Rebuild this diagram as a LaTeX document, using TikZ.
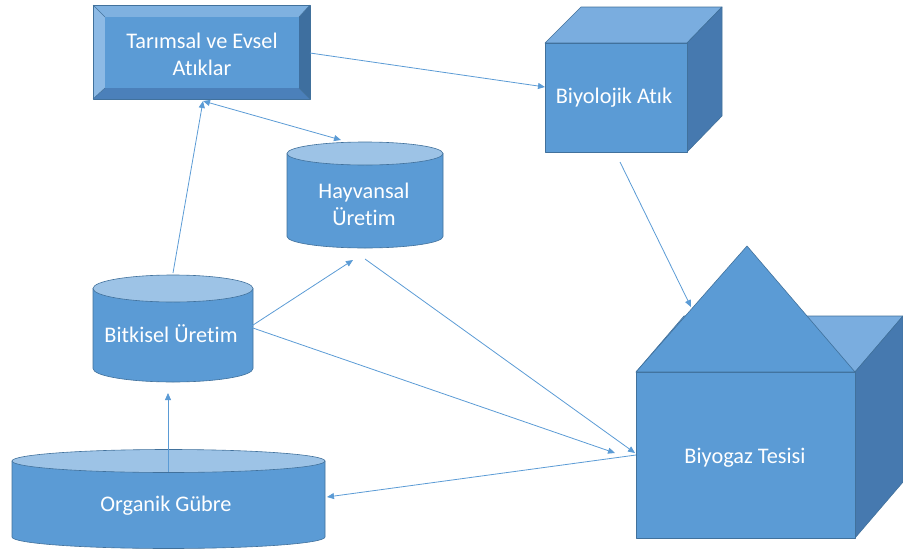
\documentclass[tikz,border=0pt]{standalone}
\usepackage{fontspec}
\setmainfont{Carlito}[Ligatures=NoCommon]
\usetikzlibrary{arrows.meta}
\definecolor{mainblue}{HTML}{5B9BD5}
\definecolor{lighttop}{HTML}{9DC3E6}
\definecolor{facetop}{HTML}{7AADDF}
\definecolor{faceright}{HTML}{4679AF}
\definecolor{edgeblue}{HTML}{41719C}
\definecolor{bevtop}{HTML}{7FB1E0}
\definecolor{bevleft}{HTML}{8DBAE5}
\definecolor{bevbottom}{HTML}{4B80BA}
\definecolor{bevright}{HTML}{3E6F9F}
\begin{document}
\begin{tikzpicture}[x=1pt,y=-1pt,
  face/.style={draw=edgeblue, line width=0.6pt, line join=round},
  lbl/.style={text=white, font=\fontsize{22.3}{27}\selectfont, align=center, inner sep=0pt},
  conn/.style={draw=mainblue, line width=0.8pt, -{Triangle[length=7pt,width=6pt]}},
  dconn/.style={draw=mainblue, line width=0.8pt, {Triangle[length=7pt,width=6pt]}-{Triangle[length=7pt,width=6pt]}},
]
\useasboundingbox (0,0) rectangle (903,552);

% ---------- Tarimsal ve Evsel Atiklar (bevel box)
\fill[bevtop] (93,5) -- (310,5) -- (299,17) -- (105,17) -- cycle;
\fill[bevleft] (93,5) -- (105,17) -- (105,88) -- (93,99) -- cycle;
\fill[bevbottom] (93,99) -- (105,88) -- (299,88) -- (310,99) -- cycle;
\fill[bevright] (310,5) -- (310,99) -- (299,88) -- (299,17) -- cycle;
\fill[mainblue] (105,17) rectangle (299,88);
\draw[edgeblue, line width=0.5pt] (93,5) -- (105,17) (310,5) -- (299,17) (93,99) -- (105,88) (310,99) -- (299,88);
\draw[face] (93,5) rectangle (310,99);

% ---------- Biyolojik Atik (cube)
\filldraw[face, fill=facetop] (545,43) -- (581,7) -- (722,7) -- (687,43) -- cycle;
\filldraw[face, fill=faceright] (687,43) -- (722,7) -- (722,116) -- (687,152) -- cycle;
\filldraw[face, fill=mainblue] (545,43) rectangle (687,152);

% ---------- Biyogaz Tesisi (house)
\filldraw[face, fill=facetop] (636,372) -- (684,316) -- (903,316) -- (855,372) -- cycle;
\filldraw[face, fill=faceright] (855,372) -- (903,316) -- (903,482) -- (855,538) -- cycle;
\filldraw[face, fill=mainblue] (636,372) rectangle (855,538);
\filldraw[face, fill=mainblue] (636,372) -- (747,246) -- (855,372) -- cycle;

% ---------- cylinders
% Hayvansal Uretim
\filldraw[face, fill=mainblue] (287,153.5) -- (287,236.5) arc[start angle=180, end angle=360, x radius=78pt, y radius=11.5pt] -- (443,153.5) -- cycle;
\filldraw[face, fill=lighttop] (365,153.5) ellipse [x radius=78pt, y radius=11.5pt];
% Bitkisel Uretim
\filldraw[face, fill=mainblue] (93,288.5) -- (93,368.5) arc[start angle=180, end angle=360, x radius=80pt, y radius=13.5pt] -- (253,288.5) -- cycle;
\filldraw[face, fill=lighttop] (173,288.5) ellipse [x radius=80pt, y radius=13.5pt];
% Organik Gubre
\filldraw[face, fill=mainblue] (12,461) -- (12,537) arc[start angle=180, end angle=360, x radius=156.5pt, y radius=11.5pt] -- (325,461) -- cycle;
\filldraw[face, fill=lighttop] (168.5,461) ellipse [x radius=156.5pt, y radius=11.5pt];

% ---------- labels
\node[lbl] (tar) at (202,54) {Tarımsal ve Evsel\\Atıklar};
\node[lbl] (bio) at (614,98) {Biyolojik Atık};
\node[lbl] (hay) at (364,204) {Hayvansal\\Üretim};
\node[lbl] (bit) at (171,334) {Bitkisel Üretim};
\node[lbl] (org) at (166,506) {Organik Gübre};
\node[lbl] (bg) at (745,458) {Biyogaz Tesisi};

% ---------- connector end points
\coordinate (tarR) at (310,53);
\coordinate (tarB) at (203,101);
\coordinate (bioL) at (545,87);
\coordinate (bioB) at (620,162);
\coordinate (hayT) at (341,140);
\coordinate (hayB) at (353,260);
\coordinate (hayBR) at (365,259);
\coordinate (bitT) at (173,273);
\coordinate (bitR) at (250,327);
\coordinate (bitB) at (168,393);
\coordinate (orgT) at (168,472);
\coordinate (orgR) at (327,497);
\coordinate (bgL) at (636,455);
\coordinate (bgA) at (635,453);
\coordinate (bgB) at (615,453);
\coordinate (roof) at (691,307);

% ---------- connectors
\draw[conn] (tarR) -- (bioL);
\draw[dconn] (tarB) -- (hayT);
\draw[conn] (bitT) -- (tarB);
\draw[conn] (bitR) -- (hayB);
\draw[conn] (hayBR) -- (bgA);
\draw[conn] (bitR) -- (bgB);
\draw[conn] (bgL) -- (orgR);
\draw[conn] (orgT) -- (bitB);
\draw[conn] (bioB) -- (roof);
\end{tikzpicture}
\end{document}
